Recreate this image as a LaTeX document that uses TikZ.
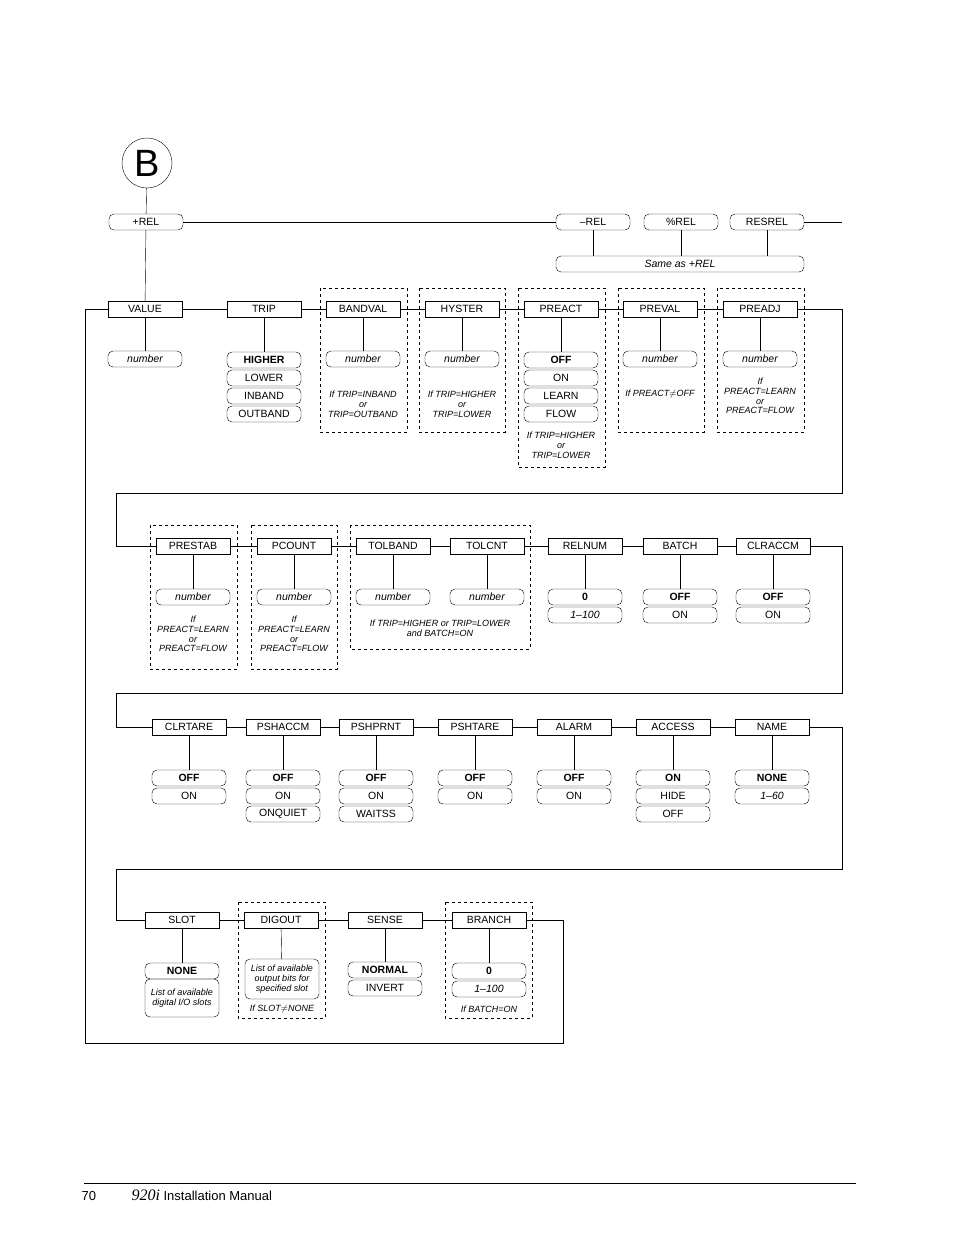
\documentclass[tikz,border=0pt]{standalone}
\usepackage{fontspec}
\setmainfont{Liberation Sans}
\usetikzlibrary{positioning}

\begin{document}
\begin{tikzpicture}[
                   x = 1pt, y = -1pt,
                  font = \fontsize{10.5}{12}\selectfont,
      menu/.style = {draw, minimum width=74pt, minimum height=16pt, inner sep=1pt},
      choice/.style = {draw, rounded corners=5pt, minimum width=74pt, minimum height=16pt, inner sep=1pt},
      cond/.style = {font=\fontsize{9}{9.8}\selectfont\itshape, align=center},
      grp/.style = {draw, dashed},
                     ]
\useasboundingbox (0,0) rectangle (954,1235);
% top
\node[circle, draw, minimum size=50pt, font=\fontsize{38}{38}\selectfont] (B) at (147,163) {B};
\node[choice] (prel) at (146,222) {+REL};
\node[choice] (mrel) at (593,222) {--REL};
\node[choice] (pcrel) at (681,222) {\%REL};
\node[choice] (resrel) at (767,222) {RESREL};
\node[choice, minimum width=248pt] (same) at (680,264) {\itshape Same as +REL};
\coordinate (topend) at (842,222);
\draw (B) -- (prel);
\draw (prel) -- (mrel) (resrel) -- (topend);
\foreach \n in {mrel,pcrel,resrel} \draw (\n) -- (\n |- same.north);
% dashed groups
\draw[grp] (320,288) rectangle (407,432);
\draw[grp] (419,288) rectangle (505,432);
\draw[grp] (518,288) rectangle (605,467);
\draw[grp] (618,288) rectangle (704,432);
\draw[grp] (717,288) rectangle (804,432);
\draw[grp] (150,525) rectangle (237,669);
\draw[grp] (251,525) rectangle (337,669);
\draw[grp] (350,525) rectangle (530,649);
\draw[grp] (238,902) rectangle (325,1018);
\draw[grp] (445,902) rectangle (532,1018);
% row 1
\foreach \x/\n/\t in {145/value/VALUE, 264/trip/TRIP, 363/bandval/BANDVAL, 462/hyster/HYSTER,
                      561/preact/PREACT, 660/preval/PREVAL, 760/preadj/PREADJ}
    \node[menu] (\n) at (\x,309) {\t};
% row 2
\foreach \x/\n/\t in {193/prestab/PRESTAB, 294/pcount/PCOUNT, 393/tolband/TOLBAND, 487/tolcnt/TOLCNT,
                      585/relnum/RELNUM, 680/batch/BATCH, 773/clraccm/CLRACCM}
    \node[menu] (\n) at (\x,546) {\t};
% row 3
\foreach \x/\n/\t in {189/clrtare/CLRTARE, 283/pshaccm/PSHACCM, 376/pshprnt/PSHPRNT, 475/pshtare/PSHTARE,
                      574/alarm/ALARM, 673/access/ACCESS, 772/name/NAME}
    \node[menu] (\n) at (\x,727) {\t};
% row 4
\foreach \x/\n/\t in {182/slot/SLOT, 281/digout/DIGOUT, 385/sense/SENSE, 489/branch/BRANCH}
    \node[menu] (\n) at (\x,920) {\t};
\draw (prel) -- (value);
\draw (value) -- (trip) -- (bandval) -- (hyster) -- (preact) -- (preval) -- (preadj);
\draw (prestab) -- (pcount) -- (tolband) -- (tolcnt) -- (relnum) -- (batch) -- (clraccm);
\draw (clrtare) -- (pshaccm) -- (pshprnt) -- (pshtare) -- (alarm) -- (access) -- (name);
\draw (slot) -- (digout) -- (sense) -- (branch);
% wrap-around lines
\draw (preadj.east) -- (842,309) -- (842,493) -- (116,493) |- (prestab.west);
\draw (clraccm.east) -- (842,546) -- (842,693) -- (116,693) |- (clrtare.west);
\draw (name.east) -- (842,727) -- (842,869) -- (116,869) |- (slot.west);
\draw (branch.east) -- (563,920) -- (563,1043) -- (85,1043) |- (value.west);
% choices, row 1
\foreach \x/\n in {145/c1, 363/c3, 462/c4, 660/c6, 760/c7}
    \node[choice] (\n) at (\x,359) {\itshape number};
\node[choice] (c2) at (264,360) {\bfseries HIGHER};
\node[choice] at (264,378) {LOWER};
\node[choice] at (264,396) {INBAND};
\node[choice] at (264,414) {OUTBAND};
\node[choice] (c5) at (561,360) {\bfseries OFF};
\node[choice] at (561,378) {ON};
\node[choice] at (561,396) {LEARN};
\node[choice] at (561,414) {FLOW};
\foreach \m/\c in {value/c1, trip/c2, bandval/c3, hyster/c4, preact/c5, preval/c6, preadj/c7}
    \draw (\m) -- (\c);
\node[cond] at (363,404) {If TRIP=INBAND\\or\\TRIP=OUTBAND};
\node[cond] at (462,404) {If TRIP=HIGHER\\or\\TRIP=LOWER};
\node[cond] at (561,445) {If TRIP=HIGHER\\or\\TRIP=LOWER};
\node[cond] at (660,394) {If PREACT$\neq$OFF};
\node[cond] at (760,396) {If\\PREACT=LEARN\\or\\PREACT=FLOW};
% choices, row 2
\foreach \x/\n in {193/d1, 294/d2, 393/d3, 487/d4}
    \node[choice] (\n) at (\x,597) {\itshape number};
\node[choice] (d5) at (585,597) {\bfseries 0};
\node[choice] at (585,615) {\itshape 1--100};
\node[choice] (d6) at (680,597) {\bfseries OFF};
\node[choice] at (680,615) {ON};
\node[choice] (d7) at (773,597) {\bfseries OFF};
\node[choice] at (773,615) {ON};
\foreach \m/\c in {prestab/d1, pcount/d2, tolband/d3, tolcnt/d4, relnum/d5, batch/d6, clraccm/d7}
    \draw (\m) -- (\c);
\node[cond] at (193,634) {If\\PREACT=LEARN\\or\\PREACT=FLOW};
\node[cond] at (294,634) {If\\PREACT=LEARN\\or\\PREACT=FLOW};
\node[cond] at (440,628) {If TRIP=HIGHER or TRIP=LOWER\\and BATCH=ON};
% choices, row 3
\foreach \x/\n in {189/e1, 283/e2, 376/e3, 475/e4, 574/e5}
    \node[choice] (\n) at (\x,778) {\bfseries OFF};
\foreach \x in {189, 283, 376, 475, 574}
    \node[choice] at (\x,796) {ON};
\node[choice] at (283,814) {ONQUIET};
\node[choice] at (376,814) {WAITSS};
\node[choice] (e6) at (673,778) {\bfseries ON};
\node[choice] at (673,796) {HIDE};
\node[choice] at (673,814) {OFF};
\node[choice] (e7) at (772,778) {\bfseries NONE};
\node[choice] at (772,796) {\itshape 1--60};
\foreach \m/\c in {clrtare/e1, pshaccm/e2, pshprnt/e3, pshtare/e4, alarm/e5, access/e6, name/e7}
    \draw (\m) -- (\c);
% choices, row 4
\node[choice] (f1) at (182,971) {\bfseries NONE};
\node[choice, minimum height=38pt, font=\fontsize{9}{10}\selectfont\itshape, align=center] at (182,998) {List of available\\digital I/O slots};
\node[choice, minimum height=40pt, font=\fontsize{9}{10}\selectfont\itshape, align=center] (f2) at (282,979) {List of available\\output bits for\\specified slot};
\node[choice] (f3) at (385,970) {\bfseries NORMAL};
\node[choice] at (385,988) {INVERT};
\node[choice] (f4) at (489,971) {\bfseries 0};
\node[choice] at (489,989) {\itshape 1--100};
\foreach \m/\c in {slot/f1, digout/f2, sense/f3, branch/f4}
    \draw (\m) -- (\c);
\node[cond] at (282,1009) {If SLOT$\neq$NONE};
\node[cond] at (489,1009) {If BATCH=ON};
% footer
\coordinate (fl) at (84,1183);
\coordinate (fr) at (856,1183);
\draw (fl) -- (fr);
\node[anchor=base west, font=\fontsize{13}{13}\selectfont] (pg) at (78,1200) {70};
\node[anchor=base west, font=\fontsize{13}{13}\selectfont] (ttl) at (128,1200) {{\fontspec{Liberation Serif}\itshape\fontsize{16}{16}\selectfont 920i} Installation Manual};
\end{tikzpicture}
\end{document}
